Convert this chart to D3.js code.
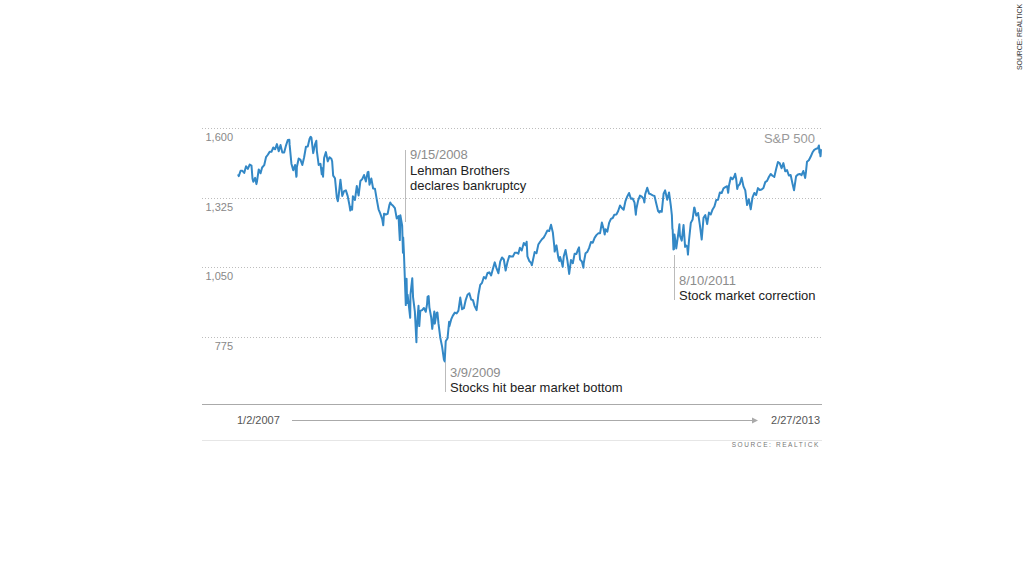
<!DOCTYPE html>
<html>
<head>
<meta charset="utf-8">
<script src="https://cdn.jsdelivr.net/npm/d3@7"></script>
<style>
  html, body { margin: 0; padding: 0; background: #fff; }
  svg { display: block; font-family: Arial, "Liberation Sans", Helvetica, sans-serif; }
</style>
</head>
<body>
<svg id="chart" width="1024" height="576"></svg>
<script>
// ---- DATA ----
const seriesName = "S&P 500";
const yTickValues = [775, 1050, 1325, 1600];
const xStartLabel = "1/2/2007";
const xEndLabel = "2/27/2013";
const sourceText = "SOURCE: REALTICK";

const annDates = ["2008-09-15", "2009-03-09", "2011-08-10"];
const annLabels = ["9/15/2008", "3/9/2009", "8/10/2011"];
const annTexts = [["Lehman Brothers", "declares bankruptcy"], ["Stocks hit bear market bottom"], ["Stock market correction"]];

// S&P 500 closes (approx.)
const spx = [
["2007-01-02",1416.6],["2007-01-05",1409.7],["2007-01-12",1430.7],["2007-01-19",1430.5],["2007-01-26",1422.2],
["2007-02-02",1448.4],["2007-02-09",1438.1],["2007-02-16",1455.5],["2007-02-23",1451.2],["2007-02-27",1399.0],
["2007-03-02",1387.2],["2007-03-09",1402.8],["2007-03-14",1377.9],["2007-03-16",1386.9],["2007-03-23",1436.1],["2007-03-30",1420.9],
["2007-04-05",1443.8],["2007-04-13",1452.9],["2007-04-20",1484.4],["2007-04-27",1494.1],
["2007-05-04",1505.6],["2007-05-11",1505.9],["2007-05-18",1522.8],["2007-05-25",1515.7],
["2007-06-01",1536.3],["2007-06-08",1507.7],["2007-06-15",1532.9],["2007-06-22",1502.6],["2007-06-29",1503.4],
["2007-07-06",1530.4],["2007-07-13",1552.5],["2007-07-19",1553.1],["2007-07-20",1534.1],["2007-07-27",1458.9],
["2007-08-03",1433.1],["2007-08-10",1453.6],["2007-08-15",1406.7],["2007-08-16",1411.3],["2007-08-17",1445.9],["2007-08-24",1479.4],["2007-08-31",1474.0],
["2007-09-07",1453.6],["2007-09-14",1484.2],["2007-09-21",1525.8],["2007-09-28",1526.8],
["2007-10-05",1557.6],["2007-10-09",1565.2],["2007-10-12",1561.8],["2007-10-19",1500.6],["2007-10-26",1535.3],["2007-10-31",1549.4],
["2007-11-02",1509.7],["2007-11-09",1453.7],["2007-11-16",1458.7],["2007-11-21",1416.8],["2007-11-23",1440.7],["2007-11-26",1407.2],["2007-11-30",1481.1],
["2007-12-07",1504.7],["2007-12-14",1467.9],["2007-12-21",1484.5],["2007-12-28",1478.5],["2007-12-31",1468.4],
["2008-01-04",1411.6],["2008-01-11",1401.0],["2008-01-18",1325.2],["2008-01-22",1310.5],["2008-01-25",1330.6],
["2008-02-01",1395.4],["2008-02-08",1331.3],["2008-02-15",1350.0],["2008-02-22",1353.1],["2008-02-29",1330.6],
["2008-03-07",1293.4],["2008-03-10",1273.4],["2008-03-14",1288.1],["2008-03-17",1276.6],["2008-03-20",1329.5],["2008-03-28",1315.2],
["2008-04-04",1370.4],["2008-04-11",1332.8],["2008-04-18",1390.3],["2008-04-25",1397.8],
["2008-05-02",1413.9],["2008-05-09",1388.3],["2008-05-16",1425.4],["2008-05-19",1426.6],["2008-05-23",1375.9],["2008-05-30",1400.4],
["2008-06-06",1360.7],["2008-06-13",1360.0],["2008-06-20",1317.9],["2008-06-27",1278.4],
["2008-07-03",1262.9],["2008-07-11",1239.5],["2008-07-15",1214.9],["2008-07-18",1260.7],["2008-07-25",1257.8],
["2008-08-01",1260.3],["2008-08-08",1296.3],["2008-08-11",1305.3],["2008-08-15",1298.2],["2008-08-22",1292.2],["2008-08-29",1282.8],
["2008-09-05",1242.3],["2008-09-12",1251.7],["2008-09-15",1192.7],["2008-09-17",1156.4],["2008-09-19",1255.1],["2008-09-26",1213.3],["2008-09-29",1106.4],["2008-09-30",1166.4],
["2008-10-03",1099.2],["2008-10-10",899.2],["2008-10-13",1003.4],["2008-10-15",907.8],["2008-10-17",940.6],["2008-10-24",876.8],["2008-10-27",848.9],["2008-10-28",940.5],["2008-10-31",968.8],
["2008-11-04",1005.8],["2008-11-07",931.0],["2008-11-14",873.3],["2008-11-20",752.4],["2008-11-21",800.0],["2008-11-28",896.2],
["2008-12-01",816.2],["2008-12-05",876.1],["2008-12-12",879.7],["2008-12-19",887.9],["2008-12-26",872.8],["2008-12-31",903.3],
["2009-01-02",931.8],["2009-01-06",934.7],["2009-01-09",890.4],["2009-01-16",850.1],["2009-01-20",805.2],["2009-01-23",832.0],["2009-01-28",874.1],["2009-01-30",825.9],
["2009-02-06",868.6],["2009-02-09",869.9],["2009-02-13",826.8],["2009-02-20",770.1],["2009-02-27",735.1],
["2009-03-06",683.4],["2009-03-09",676.5],["2009-03-13",756.6],["2009-03-20",768.5],["2009-03-26",832.9],["2009-03-27",815.9],
["2009-04-03",842.5],["2009-04-09",856.6],["2009-04-17",869.6],["2009-04-24",866.2],
["2009-05-01",877.5],["2009-05-08",929.2],["2009-05-15",882.9],["2009-05-22",887.0],["2009-05-29",919.1],
["2009-06-05",940.1],["2009-06-12",946.2],["2009-06-19",921.2],["2009-06-26",918.9],
["2009-07-02",896.4],["2009-07-10",879.1],["2009-07-17",940.4],["2009-07-24",979.3],["2009-07-31",987.5],
["2009-08-07",1010.5],["2009-08-14",1004.1],["2009-08-21",1026.1],["2009-08-28",1028.9],
["2009-09-04",1016.4],["2009-09-11",1042.7],["2009-09-18",1068.3],["2009-09-25",1044.4],
["2009-10-02",1025.2],["2009-10-09",1071.5],["2009-10-16",1087.7],["2009-10-23",1079.6],["2009-10-30",1036.2],
["2009-11-06",1069.3],["2009-11-13",1093.5],["2009-11-20",1091.4],["2009-11-27",1091.5],
["2009-12-04",1106.0],["2009-12-11",1106.4],["2009-12-18",1102.5],["2009-12-24",1126.5],["2009-12-31",1115.1],
["2010-01-08",1145.0],["2010-01-15",1136.0],["2010-01-19",1150.2],["2010-01-22",1091.8],["2010-01-29",1073.9],
["2010-02-05",1066.2],["2010-02-08",1056.7],["2010-02-12",1075.5],["2010-02-19",1109.2],["2010-02-26",1104.5],
["2010-03-05",1138.7],["2010-03-12",1150.0],["2010-03-19",1159.9],["2010-03-26",1166.6],
["2010-04-01",1178.1],["2010-04-09",1194.4],["2010-04-16",1192.1],["2010-04-23",1217.3],["2010-04-30",1186.7],
["2010-05-06",1128.2],["2010-05-07",1110.9],["2010-05-14",1135.7],["2010-05-21",1087.7],["2010-05-25",1074.0],["2010-05-28",1089.4],
["2010-06-04",1064.9],["2010-06-07",1050.5],["2010-06-11",1091.6],["2010-06-18",1117.5],["2010-06-25",1076.8],
["2010-07-02",1022.6],["2010-07-09",1078.0],["2010-07-16",1064.9],["2010-07-23",1102.7],["2010-07-30",1101.6],
["2010-08-06",1121.6],["2010-08-09",1127.8],["2010-08-13",1079.3],["2010-08-20",1071.7],["2010-08-26",1047.2],["2010-08-27",1064.6],
["2010-09-03",1104.5],["2010-09-10",1109.6],["2010-09-17",1125.6],["2010-09-24",1148.7],
["2010-10-01",1146.2],["2010-10-08",1165.2],["2010-10-15",1176.2],["2010-10-22",1183.1],["2010-10-29",1183.3],
["2010-11-05",1225.9],["2010-11-12",1199.2],["2010-11-16",1178.3],["2010-11-19",1199.7],["2010-11-26",1189.4],
["2010-12-03",1224.7],["2010-12-10",1240.4],["2010-12-17",1243.9],["2010-12-23",1256.8],["2010-12-31",1257.6],
["2011-01-07",1271.5],["2011-01-14",1293.2],["2011-01-21",1283.4],["2011-01-28",1276.3],
["2011-02-04",1310.9],["2011-02-11",1329.2],["2011-02-18",1343.0],["2011-02-25",1319.9],
["2011-03-04",1321.1],["2011-03-11",1304.3],["2011-03-16",1256.9],["2011-03-18",1279.2],["2011-03-25",1313.8],
["2011-04-01",1332.4],["2011-04-08",1328.2],["2011-04-15",1319.7],["2011-04-18",1305.1],["2011-04-21",1337.4],["2011-04-29",1363.6],
["2011-05-06",1340.2],["2011-05-13",1337.8],["2011-05-20",1333.3],["2011-05-27",1331.1],
["2011-06-03",1300.2],["2011-06-10",1271.0],["2011-06-15",1265.4],["2011-06-17",1271.5],["2011-06-24",1268.5],
["2011-07-01",1339.7],["2011-07-07",1353.2],["2011-07-15",1316.1],["2011-07-22",1345.0],["2011-07-29",1292.3],
["2011-08-02",1254.1],["2011-08-04",1200.1],["2011-08-05",1199.4],["2011-08-08",1119.5],["2011-08-09",1172.5],["2011-08-10",1120.8],["2011-08-11",1172.6],["2011-08-12",1178.8],["2011-08-19",1123.5],["2011-08-26",1176.8],["2011-08-31",1218.9],
["2011-09-02",1174.0],["2011-09-09",1154.2],["2011-09-16",1216.0],["2011-09-22",1129.6],["2011-09-23",1136.4],["2011-09-30",1131.4],
["2011-10-03",1099.2],["2011-10-07",1155.5],["2011-10-14",1224.6],["2011-10-21",1238.3],["2011-10-27",1284.6],["2011-10-28",1285.1],
["2011-11-04",1253.2],["2011-11-11",1263.9],["2011-11-18",1215.7],["2011-11-25",1158.7],
["2011-12-02",1244.3],["2011-12-09",1255.2],["2011-12-16",1219.7],["2011-12-23",1265.3],["2011-12-30",1257.6],
["2012-01-06",1277.8],["2012-01-13",1289.1],["2012-01-20",1315.4],["2012-01-27",1316.3],
["2012-02-03",1344.9],["2012-02-10",1342.6],["2012-02-17",1361.2],["2012-02-24",1365.7],
["2012-03-02",1369.6],["2012-03-06",1343.4],["2012-03-09",1370.9],["2012-03-16",1404.2],["2012-03-23",1397.1],["2012-03-30",1408.5],
["2012-04-02",1419.0],["2012-04-06",1398.1],["2012-04-10",1358.6],["2012-04-13",1370.3],["2012-04-20",1378.5],["2012-04-27",1403.4],
["2012-05-04",1369.1],["2012-05-11",1353.4],["2012-05-18",1295.2],["2012-05-25",1317.8],
["2012-06-01",1278.0],["2012-06-08",1325.7],["2012-06-15",1342.8],["2012-06-22",1335.0],["2012-06-29",1362.2],
["2012-07-06",1354.7],["2012-07-13",1356.8],["2012-07-20",1362.7],["2012-07-27",1386.0],
["2012-08-03",1391.0],["2012-08-10",1405.9],["2012-08-17",1418.2],["2012-08-24",1411.1],["2012-08-31",1406.6],
["2012-09-07",1437.9],["2012-09-14",1465.8],["2012-09-21",1460.2],["2012-09-28",1440.7],
["2012-10-05",1460.9],["2012-10-12",1428.6],["2012-10-19",1433.2],["2012-10-26",1411.9],
["2012-11-02",1414.2],["2012-11-09",1379.9],["2012-11-15",1353.3],["2012-11-16",1359.9],["2012-11-23",1409.2],["2012-11-30",1416.2],
["2012-12-07",1418.1],["2012-12-14",1413.6],["2012-12-21",1430.2],["2012-12-28",1402.4],["2012-12-31",1426.2],
["2013-01-04",1466.5],["2013-01-11",1472.1],["2013-01-18",1486.0],["2013-01-25",1503.0],
["2013-02-01",1513.2],["2013-02-08",1517.9],["2013-02-15",1519.8],["2013-02-19",1530.9],["2013-02-21",1502.4],["2013-02-22",1515.6],["2013-02-25",1487.9],["2013-02-26",1496.9],["2013-02-27",1516.0]
];

// ---- CHART ----
const parse = d3.timeParse("%Y-%m-%d");
const data = spx.map(d => ({ date: parse(d[0]), value: d[1] }));

const svg = d3.select("#chart");
const gridLeft = 202, gridRight = 822;

const x = d3.scaleTime()
  .domain([parse("2007-01-02"), parse("2013-02-27")])
  .range([238, 821]);
const y = d3.scaleLinear()
  .domain([775, 1600])
  .range([336.5, 128]);

// gridlines
svg.append("g").selectAll("line").data(yTickValues).join("line")
  .attr("x1", gridLeft).attr("x2", gridRight)
  .attr("y1", d => Math.round(y(d)) + 0.5).attr("y2", d => Math.round(y(d)) + 0.5)
  .attr("stroke", "#bdbdbd").attr("stroke-width", 1)
  .attr("stroke-dasharray", "1,2");

// y tick labels
const fmt = d3.format(",");
svg.append("g").selectAll("text").data(yTickValues).join("text")
  .attr("x", 233).attr("y", d => y(d) + 13)
  .attr("text-anchor", "end")
  .attr("font-size", 11).attr("fill", "#888")
  .text(d => fmt(d));

// series label
svg.append("text")
  .attr("x", 815).attr("y", 143)
  .attr("text-anchor", "end")
  .attr("font-size", 13).attr("fill", "#999")
  .text(seriesName);

// annotations
const annLayout = [
  { dx: 6, top: 150, bottom: 222, labelY: 159, textY: [175, 190] },
  { dx: 0, top: 362, bottom: 392, labelY: 377, textY: [392] },
  { dx: 0, top: 255, bottom: 300, labelY: 285, textY: [300] }
];
annDates.forEach((dStr, i) => {
  const L = annLayout[i];
  const ax = Math.round(x(parse(dStr))) + L.dx + 0.5;
  svg.append("line")
    .attr("x1", ax).attr("x2", ax).attr("y1", L.top).attr("y2", L.bottom)
    .attr("stroke", "#bbb").attr("stroke-width", 1);
  svg.append("text")
    .attr("x", ax + 4.5).attr("y", L.labelY)
    .attr("font-size", 13).attr("fill", "#8c8c8c")
    .text(annLabels[i]);
  annTexts[i].forEach((t, j) => {
    svg.append("text")
      .attr("x", ax + 4.5).attr("y", L.textY[j])
      .attr("font-size", 13).attr("fill", "#222")
      .text(t);
  });
});

// the line
const line = d3.line()
  .x(d => x(d.date))
  .y(d => y(d.value));
svg.append("path")
  .datum(data)
  .attr("d", line)
  .attr("fill", "none")
  .attr("stroke", "#3388c6")
  .attr("stroke-width", 2)
  .attr("stroke-linejoin", "round");

// bottom axis line
svg.append("line")
  .attr("x1", gridLeft).attr("x2", gridRight).attr("y1", 404.5).attr("y2", 404.5)
  .attr("stroke", "#aaa").attr("stroke-width", 1);

// date range labels
svg.append("text")
  .attr("x", x.range()[0] - 1).attr("y", 424)
  .attr("font-size", 11).attr("fill", "#555")
  .text(xStartLabel);
svg.append("text")
  .attr("x", x.range()[1] - 1).attr("y", 424)
  .attr("text-anchor", "end")
  .attr("font-size", 11).attr("fill", "#555")
  .text(xEndLabel);

// arrow
svg.append("line")
  .attr("x1", 292).attr("x2", 755).attr("y1", 420.5).attr("y2", 420.5)
  .attr("stroke", "#aaa").attr("stroke-width", 1);
svg.append("path")
  .attr("d", "M752,417.5 L758,420.5 L752,423.5 Z")
  .attr("fill", "#aaa");

// bottom rule
svg.append("line")
  .attr("x1", gridLeft).attr("x2", gridRight).attr("y1", 440.5).attr("y2", 440.5)
  .attr("stroke", "#e6e6e6").attr("stroke-width", 1);

// source
svg.append("text")
  .attr("x", 820).attr("y", 447)
  .attr("text-anchor", "end")
  .attr("font-size", 6.5).attr("fill", "#777")
  .attr("letter-spacing", 1.6)
  .text(sourceText);

// rotated source at right edge
svg.append("text")
  .attr("transform", "translate(1022,70) rotate(-90)")
  .attr("font-size", 6.5).attr("fill", "#333")
  .attr("textLength", 66)
  .attr("lengthAdjust", "spacingAndGlyphs")
  .text(sourceText);
</script>
</body>
</html>
